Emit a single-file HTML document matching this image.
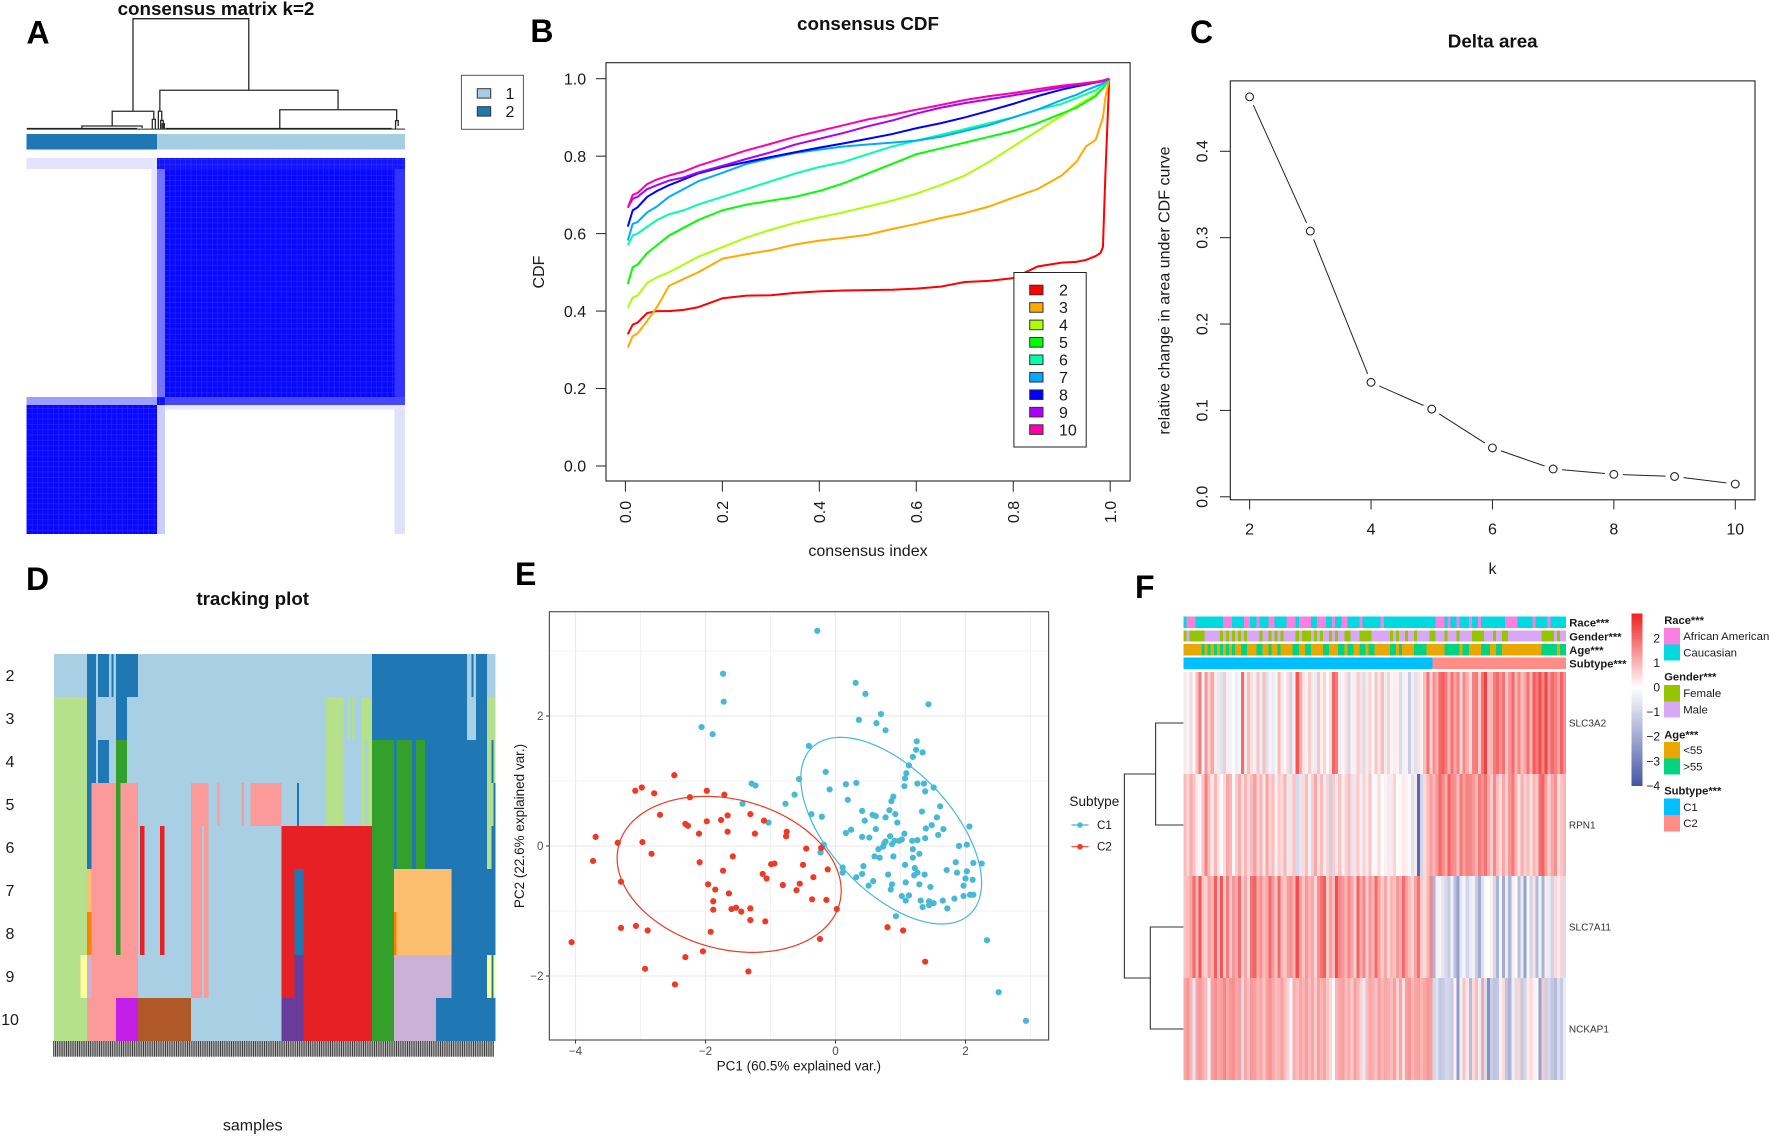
<!DOCTYPE html>
<html lang="en">
<head>
<meta charset="utf-8">
<title>Consensus clustering figure</title>
<style>
html,body{margin:0;padding:0;background:#fff;}
svg{display:block;font-family:"Liberation Sans",sans-serif;fill:#111;}
.letter{font-size:32px;font-weight:bold;fill:#000;}
.title{font-size:18.8px;font-weight:bold;text-anchor:middle;fill:#111;}
.lab{font-size:16px;fill:#1a1a1a;}
.mid{text-anchor:middle;}
.pc{font-size:13.5px;fill:#1a1a1a;text-anchor:middle;}
.bold11{font-size:11.2px;font-weight:bold;fill:#1a1a1a;}
.small{font-size:11.4px;fill:#1a1a1a;}
.gene{font-size:10px;fill:#333;}
</style>
</head>
<body>
<svg id="figure" xmlns="http://www.w3.org/2000/svg" width="1772" height="1136" viewBox="0 0 1772 1136">
<defs>
<pattern id="lattice" width="5.3" height="5.3" patternUnits="userSpaceOnUse">
<path d="M0 0H5.3M0 0V5.3" stroke="#5a5aff" stroke-width="1.1" opacity="0.4" fill="none"/>
</pattern>
<pattern id="sampleTicks" width="2.2" height="16" patternUnits="userSpaceOnUse">
<rect width="1.05" height="16" fill="#333"/>
<rect x="1.05" width="1.15" height="16" fill="#b5b5b5"/>
</pattern>
</defs>
<rect width="1772" height="1136" fill="#fff"/>

<text class="letter" x="26.5" y="43.5">A</text>
<text class="letter" x="530.4" y="42">B</text>
<text class="letter" x="1190" y="43">C</text>
<text class="letter" x="26" y="590">D</text>
<text class="letter" x="515" y="585">E</text>
<text class="letter" x="1135" y="598">F</text>

<g id="panelA">
<text class="title" x="216" y="15">consensus matrix k=2</text>
</g>
<g id="panelB">
<text class="title" x="868" y="30">consensus CDF</text>
<text class="lab mid" x="868" y="555.8">consensus index</text>
<text class="lab mid" transform="translate(544,272) rotate(-90)">CDF</text>
</g>
<g id="panelC">
<text class="title" x="1492.7" y="47.5">Delta area</text>
<text class="lab mid" x="1492.5" y="574">k</text>
<text class="lab mid" transform="translate(1169.5,290.5) rotate(-90)">relative change in area under CDF curve</text>
</g>
<g id="panelD">
<text class="title" x="252.7" y="605">tracking plot</text>
<text class="lab mid" x="252.7" y="1130.5">samples</text>
</g>
<g id="panelE">
<text class="pc" x="798.8" y="1070.5">PC1 (60.5% explained var.)</text>
<text class="pc" transform="translate(524,826) rotate(-90)">PC2 (22.6% explained var.)</text>
<text x="1069.4" y="806" style="font-size:13.6px;fill:#1a1a1a">Subtype</text>
</g>
<g id="panelF"></g>
</svg>

<script>
/* ---------- Panel A data ---------- */
const consensusCells = [
  [0, .33, 0, .029, .11], [.33, .344, 0, .635, .1], [.344, 1, 0, .029, .92],
  [.344, .365, .029, .635, .55], [.365, .972, .029, .635, .97], [.972, 1, .029, .635, .8],
  [0, .344, .635, .657, .38], [.344, .365, .635, .657, .95], [.365, 1, .635, .657, .72],
  [.365, 1, .657, .669, .1], [0, .344, .657, 1, .97], [.344, .365, .657, 1, .2],
  [.972, 1, .669, 1, .12]
];
const clusterSizes = [ ['2', .344], ['1', 1] ];
const matrixDendroMerges = [
  [.281, .587, 1, .163, .353], [.226, .336, .163, .03, .09], [.352, .823, .353, .163, .177],
  [.348, .357, .163, .005, .08], [.669, .978, .177, .005, .078], [.146, .305, .03, .005, .012],
  [.332, .34, .09, .005, .005], [.975, .982, .078, .005, .03], [.354, .361, .08, .005, .005],
  [.358, .364, .05, .005, .005]
];
const matrixDendroLeaves = [[0, .292, .005, 1.8], [.367, .965, .005, 1.8], [.292, .367, .002, 1], [.965, 1, .002, 1]];
const clusterLegend = ['1', '2'];
const clusterColors = { '1': '#A6CEE3', '2': '#1F78B4' };

/* ---------- Panel B data ---------- */
const cdfIndex = [.005,.015,.025,.045,.065,.09,.12,.15,.2,.25,.3,.35,.4,.45,.5,.55,.6,.65,.7,.75,.8,.85,.9,.93,.95,.97,.98,.985,.99,.998];
const cdfK2 = [.34,.365,.37,.395,.40,.40,.403,.41,.433,.44,.441,.447,.451,.453,.454,.455,.458,.463,.475,.478,.485,.515,.525,.527,.532,.542,.55,.565,.75,1];
const cdfK3 = [.306,.335,.342,.375,.41,.465,.483,.50,.535,.547,.557,.572,.582,.589,.597,.612,.625,.64,.653,.67,.693,.715,.75,.785,.825,.842,.88,.90,.95,1];
const cdfK4 = [.408,.435,.44,.473,.487,.5,.52,.54,.565,.59,.61,.628,.642,.655,.67,.685,.703,.725,.75,.785,.825,.865,.905,.93,.945,.96,.97,.975,.985,1];
const cdfK5 = [.47,.513,.52,.55,.57,.595,.615,.635,.66,.675,.685,.695,.71,.73,.755,.78,.805,.82,.835,.85,.865,.885,.91,.925,.94,.955,.97,.975,.985,1];
const cdfK6 = [.57,.595,.6,.618,.635,.65,.66,.675,.695,.715,.735,.755,.772,.785,.805,.825,.84,.855,.87,.885,.9,.92,.935,.95,.96,.97,.98,.983,.99,1];
const cdfK7 = [.582,.625,.63,.655,.67,.695,.715,.735,.757,.78,.795,.808,.817,.825,.83,.835,.84,.85,.865,.88,.9,.92,.945,.958,.97,.98,.985,.988,.993,1];
const cdfK8 = [.618,.66,.668,.695,.71,.725,.74,.755,.772,.785,.798,.81,.822,.833,.845,.857,.872,.885,.90,.917,.935,.955,.972,.98,.985,.99,.993,.995,.997,1];
const cdfK9 = [.667,.69,.695,.715,.725,.737,.745,.758,.775,.793,.81,.83,.845,.86,.877,.892,.91,.925,.937,.947,.957,.967,.978,.984,.987,.99,.992,.994,.996,1];
const cdfK10 = [.667,.70,.705,.728,.74,.75,.76,.775,.795,.815,.832,.85,.865,.88,.895,.907,.92,.932,.945,.955,.963,.973,.982,.986,.989,.992,.994,.995,.997,1];
const cdfSeries = [cdfK2, cdfK3, cdfK4, cdfK5, cdfK6, cdfK7, cdfK8, cdfK9, cdfK10];
const cdfLabels = ['2','3','4','5','6','7','8','9','10'];
const cdfColors = ['#FF0000','#FFAA00','#AAFF00','#00FF00','#00FFAA','#00AAFF','#0000FF','#AA00FF','#FF00AA'];
const cdfTicks = [0, .2, .4, .6, .8, 1];

/* ---------- Panel C data ---------- */
const deltaK = [2,3,4,5,6,7,8,9,10];
const deltaValues = [.463,.3076,.1325,.1015,.0566,.0322,.026,.0235,.0148];
const deltaXTicks = [2,4,6,8,10];
const deltaYTicks = [0,.1,.2,.3,.4];

/* ---------- Panel D data ---------- */
const trackingLabels = ['2','3','4','5','6','7','8','9','10'];
const trackingColors = { LB:'#A9CFE4', DB:'#1F78B4', LG:'#B5E08C', G:'#34A02C', P:'#FB9A99', R:'#E62024', LO:'#FDBF6F', O:'#FF7F00', L:'#CAB2D6', Pu:'#6A3D9A', Y:'#FFFF99', Br:'#B15928', M:'#C41FE6' };
const trackK2 = [['LB',15],['DB',19],['LB',20],['DB',25],['LB',26],['DB',27],['LB',28],['DB',38],['LB',144],['DB',187],['LB',189],['DB',190],['LB',191],['DB',196],['LB',200]];
const trackK3 = [['LG',15],['DB',19],['LB',28],['DB',33],['LB',123],['LG',131],['LB',133],['LG',134],['LB',135],['LG',136],['LB',139],['LG',144],['DB',187],['LB',191],['DB',196],['LG',200]];
const trackK4 = [['LG',15],['DB',19],['LB',20],['DB',25],['LB',28],['G',33],['LB',123],['LG',131],['LB',139],['LG',141],['LB',142],['LG',144],['G',154],['DB',155],['G',162],['DB',164],['G',168],['DB',196],['LG',198],['DB',199],['LG',200]];
const trackK5 = [['LG',15],['DB',17],['P',28],['G',30],['P',38],['LB',62],['P',70],['LB',74],['P',75],['LB',85],['P',86],['LB',89],['P',103],['LB',110],['DB',111],['LB',123],['LG',131],['LB',139],['LG',141],['LB',142],['LG',144],['G',154],['DB',155],['G',162],['DB',164],['G',168],['DB',196],['LG',199],['DB',200]];
const trackK6 = [['LG',15],['DB',17],['P',28],['G',30],['P',38],['LB',39],['R',41],['LB',48],['R',50],['LB',62],['P',67],['LB',68],['P',70],['LB',103],['R',144],['G',154],['DB',155],['G',162],['DB',164],['G',168],['DB',196],['LG',198],['DB',200]];
const trackK7 = [['LG',15],['LO',17],['P',28],['G',30],['P',38],['LB',39],['R',41],['LB',48],['R',50],['LB',62],['P',67],['LB',68],['P',70],['LB',103],['R',109],['DB',113],['R',144],['G',154],['LO',180],['DB',200]];
const trackK8 = [['LG',15],['O',17],['P',28],['G',30],['P',38],['LB',39],['R',41],['LB',48],['R',50],['LB',62],['P',67],['LB',68],['P',70],['LB',103],['R',109],['DB',113],['R',144],['G',154],['O',155],['LO',180],['DB',200]];
const trackK9 = [['LG',12],['Y',15],['L',17],['P',38],['LB',62],['P',67],['LB',68],['P',70],['LB',103],['R',109],['Pu',113],['R',144],['G',154],['L',180],['DB',196],['Y',198],['DB',199],['Y',200]];
const trackK10 = [['LG',15],['P',28],['M',38],['Br',62],['LB',103],['Pu',113],['R',144],['G',154],['L',173],['DB',200]];
const trackingRows = [trackK2, trackK3, trackK4, trackK5, trackK6, trackK7, trackK8, trackK9, trackK10];

/* ---------- Panel E data ---------- */
const c1Points = [[-.28,3.31],[-1.73,2.65],[-1.72,2.22],[-2.06,1.83],[-1.89,1.72],[.31,2.51],[.46,2.34],[1.43,2.18],[.70,2.03],[.36,1.94],[.63,1.89],[.77,1.78],[1.25,1.61],[-.41,1.54],[1.24,1.48],[1.34,1.44],[1.19,1.37],[1.13,1.24],[-.15,1.14],[1.09,1.12],[1.07,1.04],[-.56,1.03],[-1.29,.96],[-1.23,.93],[.16,.95],[.32,.97],[1.26,.96],[1.36,.96],[1.06,.92],[1.51,.90],[-.09,.87],[1.38,.84],[-.63,.79],[.89,.76],[.86,.69],[.19,.71],[-.77,.65],[-1.43,.65],[1.61,.61],[.83,.55],[.41,.54],[1.33,.53],[.92,.49],[-.37,.49],[.57,.48],[.62,.46],[-.21,.45],[.77,.44],[1.56,.44],[.45,.39],[.95,.36],[-1.03,.36],[1.48,.32],[2.06,.30],[1.39,.27],[.62,.26],[1.66,.26],[.24,.25],[.16,.20],[1.06,.19],[1.58,.17],[.41,.14],[.52,.13],[.84,.15],[1.38,.12],[1.02,.10],[.98,.08],[.91,.08],[1.18,.08],[1.26,.09],[.77,.07],[.75,.04],[.87,.03],[-.18,.02],[.73,-.01],[1.90,0],[2.02,.02],[.66,-.05],[1.19,-.05],[-.23,-.10],[1.29,-.12],[.60,-.16],[.68,-.18],[.89,-.16],[1.19,-.18],[1.85,-.25],[2.12,-.26],[2.25,-.27],[1.07,-.29],[.43,-.31],[.11,-.33],[.11,-.41],[1.22,-.34],[1.71,-.37],[1.26,-.41],[1.87,-.41],[2.02,-.39],[.41,-.43],[.81,-.44],[1.37,-.44],[1.21,-.45],[.32,-.48],[2.0,-.50],[2.11,-.52],[.58,-.54],[1.08,-.56],[.51,-.61],[.87,-.59],[1.29,-.59],[1.97,-.61],[1.46,-.63],[.85,-.67],[2.12,-.75],[2.07,-.75],[1.97,-.77],[1.02,-.77],[1.13,-.76],[1.83,-.81],[1.08,-.84],[1.31,-.84],[1.65,-.84],[1.44,-.85],[1.51,-.88],[1.44,-.91],[1.34,-.94],[1.72,-.96],[.93,-1.08],[2.33,-1.45],[2.51,-2.25],[2.93,-2.69]];
const c2Points = [[-2.48,1.09],[-2.98,.90],[-3.08,.85],[-2.79,.81],[-1.98,.85],[-1.71,.79],[-2.24,.75],[-2.70,.48],[-1.31,.49],[-1.66,.47],[-1.76,.40],[-1.98,.38],[-1.10,.39],[-2.31,.34],[-2.27,.31],[-1.66,.22],[-1.24,.19],[-2.10,.19],[-.75,.22],[-.76,.15],[-3.69,.14],[-2.97,.06],[-3.35,.05],[-.45,-.04],[-.22,-.03],[-2.83,-.12],[-1.58,-.16],[-3.73,-.23],[-2.09,-.25],[-.94,-.27],[-.99,-.28],[-.50,-.29],[-1.73,-.38],[-.12,-.36],[-1.12,-.43],[-.34,-.48],[-1.06,-.50],[-3.30,-.55],[-1.96,-.59],[-.81,-.60],[-.55,-.58],[-1.85,-.67],[-.60,-.68],[-1.64,-.73],[-.36,-.82],[-.14,-.83],[-1.88,-.85],[-1.88,-.98],[-1.60,-.97],[-1.53,-.95],[-1.45,-1.01],[-1.31,-.96],[.02,-.97],[-1.31,-1.14],[-1.08,-1.16],[.80,-1.25],[1.04,-1.30],[-3.07,-1.23],[-3.30,-1.26],[-2.89,-1.30],[-1.92,-1.32],[-.24,-1.43],[-4.06,-1.48],[-2.04,-1.62],[-2.31,-1.71],[1.38,-1.78],[-2.93,-1.89],[-1.34,-1.93],[-2.47,-2.13]];
const c1Ellipse = [.857, .236, 1.391, 1.436, -.56];
const c2Ellipse = [-1.636, -.436, 1.724, 1.2, -.21];
const pcaXMajor = [-4,-2,0,2];
const pcaXMinor = [-3,-1,1,3];
const pcaYMajor = [-2,0,2];
const pcaYMinor = [-1,1,3];
const subtypeNames = ['C1','C2'];
const subtypeColors = ['#46B8D8','#EC3A25'];

/* ---------- Panel F data ---------- */
const geneNames = ['SLC3A2','RPN1','SLC7A11','NCKAP1'];
const exprSLC3A2 = [0.3,-0.2,0.5,-0.1,0.9,1.8,-0.2,1.4,0.6,1.2,0.3,-0.5,-0.7,0.7,-0.3,0.2,-0.1,-0.4,-0.2,2.0,
0.3,0.9,0.4,-0.3,0.8,-0.4,0.9,-0.7,0.2,-0.5,-0.2,0.9,0.3,-0.2,0.5,-1.0,0.2,2.3,1.2,0.4,
-0.3,0.7,0.3,-0.5,0.8,0.2,0.6,-0.1,0.5,2.1,1.8,0.3,-0.2,0.4,-0.9,0.2,-0.3,0.7,0.4,-0.8,
0.3,0.6,0.1,0.8,0.3,0.9,-0.4,0.6,-0.2,0.3,0.2,-0.8,-0.3,0.2,-1.2,0.3,-0.7,0.4,0.2,0.9,1.9,0.6,
1.5,1.1,2.0,2.2,1.8,1.0,1.9,1.2,1.7,0.6,1.6,1.1,0.5,1.7,1.8,0.7,1.9,2.6,0.9,1.0,1.8,2.0,1.5,1.9,0.8,1.4,2.0,1.0,1.6,0.9,1.2,1.9,1.0,2.2,1.8,2.4,1.6,2.5,1.4,2.0,1.7,1.3,2.1,1.5];
const exprRPN1 = [0.9,0.6,1.1,0.8,0.3,-0.2,0.8,1.7,0.9,0.3,1.0,0.4,-0.1,0.5,1.2,1.0,-0.2,0.7,1.1,0.4,
1.0,0.5,0.9,1.3,0.6,1.0,0.3,1.2,0.6,0.9,0.2,0.7,0.5,1.0,-0.5,0.4,0.8,-0.9,-0.6,0.5,
0.9,-0.3,0.7,1.2,0.4,0.9,-0.4,0.6,-1.1,0.7,0.3,0.8,0.2,0.6,0.9,-0.6,0.4,0.7,-0.3,0.6,
0.3,0.8,0.1,-0.2,0.5,0,0.2,-0.4,0.3,0.6,0,0.1,0.3,0.2,-0.1,-0.7,0.3,-3.6,-1.0,0.5,0.9,1.3,
1.0,1.4,2.0,1.6,1.1,2.1,1.6,1.5,0.9,1.8,1.3,1.7,1.6,1.4,1.0,1.8,1.5,1.9,1.2,0.7,1.6,0.9,0.5,1.2,0.6,1.4,1.8,1.0,0.4,1.1,0.6,0.9,0.4,1.0,0.7,1.9,2.1,1.3,0.6,1.2,1.5,0.5,0.8,1.0];
const exprSLC7A11 = [0.8,0.9,1.2,2.0,1.0,2.3,0.8,0.6,1.3,1.0,2.2,0.9,2.3,0.7,1.8,0.8,1.4,1.1,2.0,0.7,
1.2,0.5,1.9,2.1,1.1,1.5,0.9,1.2,2.0,1.4,0.8,2.0,1.0,0.7,1.3,1.5,1.0,2.4,1.3,0.8,
1.4,1.0,1.2,0.5,1.5,1.9,2.2,0.7,1.3,0.9,2.4,1.6,1.4,1.0,1.6,1.2,0.6,2.1,1.1,1.6,
0.7,1.4,1.0,2.0,1.3,0.7,1.2,0.5,1.0,0.8,1.4,1.1,2.0,1.3,0.9,0.6,1.3,1.9,0.7,0.5,1.0,1.6,
-1.8,-0.3,0.2,-0.6,-0.9,-1.2,-0.3,-1.5,-2.2,-0.6,-0.2,-1.0,-0.5,-0.3,-1.2,-2.0,-0.7,-0.1,0,0.2,-0.9,-1.8,-0.2,-2.0,-0.4,-1.7,-0.3,0.1,-1.5,-0.5,-2.2,-0.2,-1.0,0.4,-1.6,-0.3,-1.8,0.3,-0.5,-1.0,0.5,0.3,0.6,-0.8];
const exprNCKAP1 = [1.2,1.4,1.0,-0.6,1.2,1.4,1.1,0.9,-0.2,1.3,1.5,1.2,1.3,1.6,1.2,1.4,1.5,1.2,1.3,-0.8,
1.2,0.9,1.4,1.3,1.0,1.2,0.8,1.3,1.5,1.2,0.9,1.0,1.3,0.9,0.6,-0.2,1.1,0.9,1.2,1.0,
1.3,0.9,1.2,0.7,1.3,1.0,1.2,0.8,0.5,-0.1,1.0,1.2,1.3,0.9,1.1,0.7,1.3,1.0,0.6,-0.5,
0.9,1.2,1.1,0.8,1.3,1.0,1.2,1.1,0.9,1.3,0.6,1.2,0.4,1.3,1.4,1.0,1.2,1.3,1.0,1.2,1.4,1.3,
-1.0,-0.7,-1.3,-1.2,-0.9,-1.0,-1.2,0.2,-2.3,-0.3,0.8,0.3,-1.6,0.5,0.9,-0.4,1.2,-0.8,-2.6,-1.2,-1.4,-1.3,-0.3,0.5,-1.4,-1.8,0.3,-0.8,0.6,-1.3,-1.0,0.3,0.5,0.2,-0.2,-2.2,0.7,-1.1,-0.9,-1.3,-1.6,-0.8,-1.2,-0.5];
const exprRows = [exprSLC3A2, exprRPN1, exprSLC7A11, exprNCKAP1];
const raceAfricanColumns = [1,2,3,13,14,15,20,21,24,28,29,34,35,36,38,39,40,41,44,45,46,49,52,53,58,65,83,84,85,87,90,94,97,106,107,108,109,115,120];
const genderFemaleColumns = [0,2,3,4,5,6,12,14,16,18,20,25,28,30,32,37,39,40,41,43,45,48,50,53,54,58,59,60,61,68,70,73,76,81,82,86,90,95,96,97,98,102,105,106,118,119,120,121,123];
const ageOver55Columns = [6,8,10,12,14,16,19,20,24,25,28,31,36,37,40,41,46,47,51,52,54,55,58,59,61,62,68,69,71,76,77,78,79,86,87,88,89,90,92,93,98,99,100,103,104,118,119,120,121,122,124,125];
const subtypeC1Count = 82;
const colorbarTicks = [2,1,0,-1,-2,-3,-4];
const annotationTitles = ['Race***','Gender***','Age***','Subtype***'];
const raceNames = ['African American','Caucasian'];
const genderNames = ['Female','Male'];
const ageNames = ['<55','>55'];
const raceFill = ['#FB7FE0','#00D9E0'];
const genderFill = ['#94C500','#D8A8F6'];
const ageFill = ['#E8A800','#00D480'];
const subtypeFill = ['#00BFFF','#FF8C87'];
const geneMergeHeights = [.471, .561, 1];

/* ---------- helpers ---------- */
const NS = 'http://www.w3.org/2000/svg';
function el(parent, tag, attrs, text) {
  const n = document.createElementNS(NS, tag);
  for (const k in attrs) n.setAttribute(k, attrs[k]);
  if (text !== undefined) n.textContent = text;
  parent.appendChild(n);
  return n;
}
const minusFmt = v => String(v).replace('-', '\u2212');
const panelA = document.getElementById('panelA');
const panelB = document.getElementById('panelB');
const panelC = document.getElementById('panelC');
const panelD = document.getElementById('panelD');
const panelE = document.getElementById('panelE');
const panelF = document.getElementById('panelF');

/* ---------- Panel A ---------- */
(function () {
  const mx = f => 26.7 + f * 378.3;
  const my = f => 158 + f * 376;
  const dy = h => 129.3 - h * 110.6;
  const shade = v => {
    const c = Math.round(255 * (1 - v));
    return 'rgb(' + c + ',' + c + ',255)';
  };
  consensusCells.forEach(c => {
    const r = el(panelA, 'rect', { x: mx(c[0]), y: my(c[2]), width: mx(c[1]) - mx(c[0]), height: my(c[3]) - my(c[2]), fill: shade(c[4]), 'shape-rendering': 'crispEdges' });
    
    
    if (c[4] > .9) {
      const o = el(panelA, 'rect', { x: mx(c[0]), y: my(c[2]), width: mx(c[1]) - mx(c[0]), height: my(c[3]) - my(c[2]), fill: 'url(#lattice)' });
      
      
    }
  });
  let prev = 0;
  clusterSizes.forEach(c => {
    const r = el(panelA, 'rect', { x: mx(prev), y: 134.2, width: mx(c[1]) - mx(prev), height: 15.5, fill: clusterColors[c[0]], 'shape-rendering': 'crispEdges' });
    
    
    prev = c[1];
  });
  matrixDendroMerges.forEach(m => {
    const p = el(panelA, 'path', { d: 'M' + mx(m[0]) + ' ' + dy(m[3]) + 'V' + dy(m[2]) + 'H' + mx(m[1]) + 'V' + dy(m[4]), fill: 'none', stroke: '#2a2a2a', 'stroke-width': 1.3 });
    
    
  });
  matrixDendroLeaves.forEach(m => {
    const p = el(panelA, 'line', { x1: mx(m[0]), x2: mx(m[1]), y1: dy(m[2]), y2: dy(m[2]), stroke: '#222', 'stroke-width': m[3] });
    
    
  });
  const box = el(panelA, 'rect', { x: 461.4, y: 75.3, width: 62, height: 54, fill: '#fff', stroke: '#555', 'stroke-width': 1 });
  
  
  clusterLegend.forEach((name, i) => {
    const cy = 93.4 + i * 18;
    const s = el(panelA, 'rect', { x: 477.3, y: cy - 4.7, width: 13.4, height: 9.4, fill: clusterColors[name], stroke: '#333', 'stroke-width': 1 });
    
    
    const t = el(panelA, 'text', { class: 'lab mid', x: 510, y: cy + 5.6 }, name);
    
    
  });
})();

/* ---------- Panel B ---------- */
(function () {
  const sx = v => 625.4 + v * 484.8;
  const sy = v => 466 - v * 387.3;
  cdfSeries.forEach((vals, s) => {
    const p = el(panelB, 'polyline', { points: vals.map((v, i) => sx(cdfIndex[i]) + ',' + sy(v)).join(' '), fill: 'none', stroke: cdfColors[s], 'stroke-width': 2, 'stroke-linejoin': 'round' });
    
    
  });
  const frame = el(panelB, 'rect', { x: 606, y: 62.7, width: 524.1, height: 418.3, fill: 'none', stroke: '#222', 'stroke-width': 1.1 });
  
  
  cdfTicks.forEach(v => {
    const a = el(panelB, 'line', { x1: 596, x2: 606, y1: sy(v), y2: sy(v), stroke: '#222', 'stroke-width': 1 });
    
    
    const t = el(panelB, 'text', { class: 'lab mid', x: 575, y: sy(v) + 5.7 }, v.toFixed(1));
    
    
    const b = el(panelB, 'line', { x1: sx(v), x2: sx(v), y1: 481, y2: 491.7, stroke: '#222', 'stroke-width': 1 });
    
    
    const u = el(panelB, 'text', { class: 'lab mid', transform: 'translate(' + (sx(v) + 5.7) + ',512) rotate(-90)' }, v.toFixed(1));
    
    
  });
  const box = el(panelB, 'rect', { x: 1013.9, y: 272.5, width: 72.3, height: 174.5, fill: '#fff', stroke: '#222', 'stroke-width': 1 });
  
  
  cdfLabels.forEach((name, i) => {
    const cy = 290 + i * 17.45;
    const s = el(panelB, 'rect', { x: 1029.7, y: cy - 4.8, width: 13.3, height: 9.6, fill: cdfColors[i], stroke: '#333', 'stroke-width': 1 });
    
    
    const t = el(panelB, 'text', { class: 'lab', x: 1059, y: cy + 5.7 }, name);
    
    
  });
})();

/* ---------- Panel C ---------- */
(function () {
  const sx = k => 1249.6 + (k - 2) * 60.71;
  const sy = v => 496.8 - v * 863.8;
  const frame = el(panelC, 'rect', { x: 1230.3, y: 80.9, width: 524.7, height: 418.9, fill: 'none', stroke: '#222', 'stroke-width': 1.1 });
  
  
  deltaValues.forEach((v, i) => {
    if (i > 0) {
      const x0 = sx(deltaK[i - 1]), y0 = sy(deltaValues[i - 1]), x1 = sx(deltaK[i]), y1 = sy(v);
      const d = Math.hypot(x1 - x0, y1 - y0), gap = 9;
      if (d > gap * 2) {
        const ux = (x1 - x0) / d, uy = (y1 - y0) / d;
        const s = el(panelC, 'line', { x1: x0 + ux * gap, y1: y0 + uy * gap, x2: x1 - ux * gap, y2: y1 - uy * gap, stroke: '#222', 'stroke-width': 1 });
        
        
      }
    }
  });
  deltaValues.forEach((v, i) => {
    const c = el(panelC, 'circle', { cx: sx(deltaK[i]), cy: sy(v), r: 3.9, fill: '#fff', stroke: '#222', 'stroke-width': 1.1 });
    
    
  });
  deltaXTicks.forEach(k => {
    const a = el(panelC, 'line', { x1: sx(k), x2: sx(k), y1: 499.8, y2: 509.5, stroke: '#222', 'stroke-width': 1 });
    
    
    const t = el(panelC, 'text', { class: 'lab mid', x: sx(k), y: 534.5 }, k);
    
    
  });
  deltaYTicks.forEach(v => {
    const a = el(panelC, 'line', { x1: 1220, x2: 1230.3, y1: sy(v), y2: sy(v), stroke: '#222', 'stroke-width': 1 });
    
    
    const t = el(panelC, 'text', { class: 'lab mid', transform: 'translate(1207.4,' + sy(v) + ') rotate(-90)' }, v.toFixed(1));
    
    
  });
})();

/* ---------- Panel D ---------- */
(function () {
  const sx = s => 54 + s * 2.2085;
  const sy = r => 654 + r * 43;
  trackingRows.forEach((runs, r) => {
    let start = 0;
    runs.forEach(run => {
      const b = el(panelD, 'rect', { x: sx(start), y: sy(r), width: sx(run[1]) - sx(start), height: 43, fill: trackingColors[run[0]], 'shape-rendering': 'crispEdges' });
      
      
      start = run[1];
    });
    const t = el(panelD, 'text', { class: 'lab mid', x: 10, y: sy(r) + 27 }, trackingLabels[r]);
    
    
  });
  const strip = el(panelD, 'rect', { x: 53, y: 1041, width: 441, height: 15.7, fill: 'url(#sampleTicks)' });
  
  
})();

/* ---------- Panel E ---------- */
(function () {
  const sx = v => 835.5 + v * 65;
  const sy = v => 846 - v * 65;
  pcaXMinor.forEach(v => {
    const g = el(panelE, 'line', { x1: sx(v), x2: sx(v), y1: 611.7, y2: 1040, stroke: '#f3f3f3', 'stroke-width': 1 });
    
    
  });
  pcaYMinor.forEach(v => {
    const g = el(panelE, 'line', { x1: 549.4, x2: 1048.6, y1: sy(v), y2: sy(v), stroke: '#f3f3f3', 'stroke-width': 1 });
    
    
  });
  pcaXMajor.forEach(v => {
    const g = el(panelE, 'line', { x1: sx(v), x2: sx(v), y1: 611.7, y2: 1040, stroke: '#ececec', 'stroke-width': 1.3 });
    
    
    const a = el(panelE, 'line', { x1: sx(v), x2: sx(v), y1: 1040, y2: 1043.5, stroke: '#333', 'stroke-width': 1 });
    
    
    const t = el(panelE, 'text', { x: sx(v), y: 1055, 'text-anchor': 'middle', style: 'font-size:11.6px;fill:#4d4d4d' }, minusFmt(v));
    
    
  });
  pcaYMajor.forEach(v => {
    const g = el(panelE, 'line', { x1: 549.4, x2: 1048.6, y1: sy(v), y2: sy(v), stroke: '#ececec', 'stroke-width': 1.3 });
    
    
    const a = el(panelE, 'line', { x1: 546, x2: 549.4, y1: sy(v), y2: sy(v), stroke: '#333', 'stroke-width': 1 });
    
    
    const t = el(panelE, 'text', { x: 543.5, y: sy(v) + 4, 'text-anchor': 'end', style: 'font-size:11.6px;fill:#4d4d4d' }, minusFmt(v));
    
    
  });
  [c1Points, c2Points].forEach((pts, s) => {
    pts.forEach(p => {
      const c = el(panelE, 'circle', { cx: sx(p[0]), cy: sy(p[1]), r: 3.1, fill: subtypeColors[s] });
      
      
    });
  });
  [c1Ellipse, c2Ellipse].forEach((e, s) => {
    const pts = [];
    for (let i = 0; i < 120; i++) {
      const t = i / 120 * Math.PI * 2;
      const x = e[0] + e[2] * Math.cos(t);
      const y = e[1] + e[3] * (e[4] * Math.cos(t) + Math.sqrt(1 - e[4] * e[4]) * Math.sin(t));
      pts.push(sx(x) + ',' + sy(y));
    }
    const g = el(panelE, 'polygon', { points: pts.join(' '), fill: 'none', stroke: subtypeColors[s], 'stroke-width': 1.2 });
    
    
  });
  const frame = el(panelE, 'rect', { x: 549.4, y: 611.7, width: 499.2, height: 428.3, fill: 'none', stroke: '#555', 'stroke-width': 1.2 });
  
  
  subtypeNames.forEach((name, i) => {
    const cy = 825 + i * 21.7;
    const l = el(panelE, 'line', { x1: 1071.4, x2: 1088.6, y1: cy, y2: cy, stroke: subtypeColors[i], 'stroke-width': 1.2 });
    
    
    const c = el(panelE, 'circle', { cx: 1080, cy: cy, r: 2.8, fill: subtypeColors[i] });
    
    
    const t = el(panelE, 'text', { x: 1097, y: cy + 4, style: 'font-size:11.6px;fill:#1a1a1a' }, name);
    
    
  });
})();

/* ---------- Panel F ---------- */
(function () {
  const N = exprRows[0].length;
  const colW = 382.5 / N;
  const cx = i => 1183.4 + i * colW;
  const rowTop = r => 672 + r * 102;
  const rowMid = r => rowTop(r) + 51;
  const dendroX = h => 1183.4 - h * 59;
  const mix = (a, b, t) => 'rgb(' + a.map((c, i) => Math.round(c + (b[i] - c) * t)).join(',') + ')';
  const heatColor = v => v >= 0
    ? mix([255, 255, 255], [240, 40, 40], Math.min(v / 2.9, 1))
    : mix([255, 255, 255], [68, 85, 165], Math.min(-v / 4, 1));
  const sb = v => 687.3 - v * 24.6;
  exprRows.forEach((vals, r) => {
    vals.forEach((v, i) => {
      const c = el(panelF, 'rect', { x: cx(i), y: rowTop(r), width: colW + .3, height: 102, fill: heatColor(v), 'shape-rendering': 'crispEdges' });
      
      
    });
    const t = el(panelF, 'text', { class: 'gene', x: 1568.9, y: rowMid(r) + 3.5 }, geneNames[r]);
    
    
  });
  const tracks = [
    { top: 616.3, h: 11.7, on: raceAfricanColumns, fill: [raceFill[0], raceFill[1]] },
    { top: 630.3, h: 11.4, on: genderFemaleColumns, fill: [genderFill[0], genderFill[1]] },
    { top: 644, h: 11.3, on: ageOver55Columns, fill: [ageFill[1], ageFill[0]] }
  ];
  tracks.forEach((tr, k) => {
    for (let i = 0; i < N; i++) {
      const c = el(panelF, 'rect', { x: cx(i), y: tr.top, width: colW + .3, height: tr.h, fill: tr.on.includes(i) ? tr.fill[0] : tr.fill[1], 'shape-rendering': 'crispEdges' });
      
      
    }
  });
  for (let i = 0; i < N; i++) {
    const c = el(panelF, 'rect', { x: cx(i), y: 657.3, width: colW + .3, height: 11.7, fill: i < subtypeC1Count ? subtypeFill[0] : subtypeFill[1], 'shape-rendering': 'crispEdges' });
    
    
  }
  annotationTitles.forEach((name, i) => {
    const t = el(panelF, 'text', { class: 'bold11', x: 1569.3, y: 626.7 + i * 13.55 }, name);
    
    
  });
  /* gene dendrogram */
  const topMid = (rowMid(0) + rowMid(1)) / 2, botMid = (rowMid(2) + rowMid(3)) / 2;
  const dendroPaths = [
    [dendroX(0), rowMid(0), dendroX(geneMergeHeights[0]), rowMid(1), dendroX(0)],
    [dendroX(0), rowMid(2), dendroX(geneMergeHeights[1]), rowMid(3), dendroX(0)],
    [dendroX(geneMergeHeights[0]), topMid, dendroX(geneMergeHeights[2]), botMid, dendroX(geneMergeHeights[1])]
  ];
  dendroPaths.forEach(d => {
    const p = el(panelF, 'path', { d: 'M' + d[0] + ' ' + d[1] + 'H' + d[2] + 'V' + d[3] + 'H' + d[4], fill: 'none', stroke: '#333', 'stroke-width': 1.1 });
    
    
  });
  /* colour bar */
  for (let v = -4; v < 2.93; v += .1) {
    const s = el(panelF, 'rect', { x: 1631.7, y: sb(v + .1), width: 11, height: 2.9, fill: heatColor(v + .05), 'shape-rendering': 'crispEdges' });
    
    
  }
  colorbarTicks.forEach(v => {
    const t = el(panelF, 'text', { class: 'small', x: 1660, y: sb(v) + 4.2, 'text-anchor': 'end', style: 'font-size:12px' }, minusFmt(v));
    
    
  });
  /* legends */
  const legendGroups = [
    [annotationTitles[0], 620, raceNames, raceFill, 628],
    [annotationTitles[1], 676.7, genderNames, genderFill, 685],
    [annotationTitles[2], 734.3, ageNames, ageFill, 742],
    [annotationTitles[3], 790.7, subtypeNames, subtypeFill, 798.7]
  ];
  legendGroups.forEach(g => {
    const h = el(panelF, 'text', { class: 'bold11', x: 1664.2, y: g[1] + 4 }, g[0]);
    
    
    g[2].forEach((name, i) => {
      const top = g[4] + i * 16.3;
      const s = el(panelF, 'rect', { x: 1664.2, y: top, width: 16, height: 16.3, fill: g[3][i], 'shape-rendering': 'crispEdges' });
      
      
      const t = el(panelF, 'text', { class: 'small', x: 1683.2, y: top + 12.2 }, name);
      
      
    });
  });
})();
</script>
</body>
</html>
